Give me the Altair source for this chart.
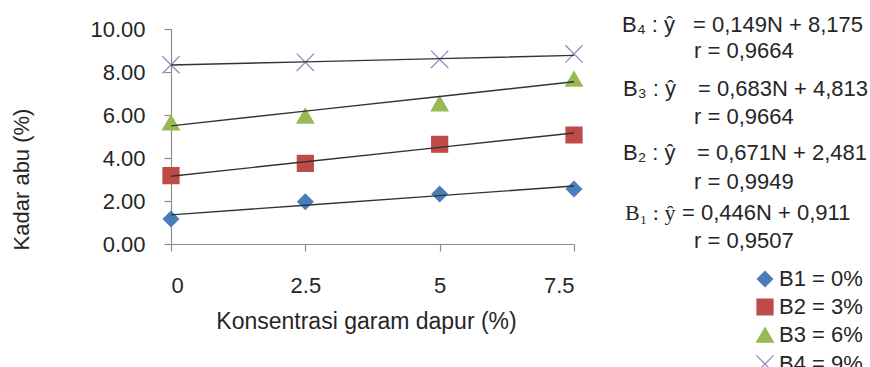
import altair as alt
import pandas as pd

# Konsentrasi garam dapur (%) pada sumbu X
konsentrasi = [0, 2.5, 5, 7.5]
perlakuan = ["B1 = 0%", "B2 = 3%", "B3 = 6%", "B4 = 9%"]

# Kadar abu (%) hasil pengamatan tiap perlakuan
kadar_b1 = [1.16, 1.97, 2.33, 2.56]
kadar_b2 = [3.18, 3.75, 4.64, 5.07]
kadar_b3 = [5.65, 5.96, 6.53, 7.68]
kadar_b4 = [8.33, 8.45, 8.59, 8.84]

# Persamaan regresi linier y = a*N + b (N = urutan taraf 1..4)
kemiringan = [0.446, 0.671, 0.683, 0.149]
intersep = [0.911, 2.481, 4.813, 8.175]
nilai_r = ["0,9507", "0,9949", "0,9664", "0,9664"]
notasi = ["B\u2081 : \u0177", "B\u2082 : \u0177", "B\u2083 : \u0177", "B\u2084 : \u0177"]

warna = ["#4A7EBB", "#BE4B48", "#98B954", "#9A87C0"]
SILANG = "M-1,-1L1,1M1,-1L-1,1"
bentuk = ["diamond", "square", "triangle-up", SILANG]
ukuran = [230, 300, 290, 330]

FONT = "Liberation Sans"
TEKS = "#262626"
FS = 22

semua_kadar = [kadar_b1, kadar_b2, kadar_b3, kadar_b4]
rows = []
for p, kadar in zip(perlakuan, semua_kadar):
    for x, y in zip(konsentrasi, kadar):
        rows.append({"perlakuan": p, "konsentrasi": x, "kadar": y})
obs = pd.DataFrame(rows)

# Garis tren dari persamaan regresi
tren_rows = []
for p, a, b in zip(perlakuan, kemiringan, intersep):
    for n, x in enumerate(konsentrasi, start=1):
        tren_rows.append({"perlakuan": p, "konsentrasi": x, "kadar": b + a * n})
tren = pd.DataFrame(tren_rows)

x_enc = alt.X(
    "konsentrasi:Q",
    scale=alt.Scale(domain=[0, 7.5], nice=False, zero=False),
    axis=alt.Axis(
        values=konsentrasi, format="~g", title="Konsentrasi garam dapur (%)",
        grid=False, tickSize=7, labelPadding=24, titleX=195, titleY=77,
        titleBaseline="middle", titleAlign="center", titleFontSize=23,
    ),
)
y_enc = alt.Y(
    "kadar:Q",
    scale=alt.Scale(domain=[0, 10], nice=False),
    axis=alt.Axis(
        values=[0, 2, 4, 6, 8, 10], format=".2f", title="Kadar abu (%)",
        grid=False, tickSize=7, labelPadding=19, titleAngle=270,
        titleX=-150, titleY=150, titleBaseline="middle", titleAlign="center",
    ),
)

leg = alt.Legend(
    title=None, orient="none", legendX=583, legendY=239, padding=0,
    rowPadding=6, labelOffset=3, symbolSize=170, symbolStrokeWidth=1.3,
    labelFontSize=FS, labelFont=FONT, labelColor=TEKS,
)

titik = alt.Chart(obs).mark_point(filled=True, strokeWidth=1.3, opacity=1).encode(
    x=x_enc,
    y=y_enc,
    color=alt.Color("perlakuan:N", scale=alt.Scale(domain=perlakuan, range=warna), legend=leg),
    stroke=alt.Stroke("perlakuan:N", scale=alt.Scale(domain=perlakuan, range=warna), legend=leg),
    shape=alt.Shape("perlakuan:N", scale=alt.Scale(domain=perlakuan, range=bentuk), legend=leg),
    size=alt.Size("perlakuan:N", scale=alt.Scale(domain=perlakuan, range=ukuran), legend=None),
)

garis = alt.Chart(tren).mark_line(color="#333333", strokeWidth=1.4).encode(
    x="konsentrasi:Q",
    y="kadar:Q",
    detail="perlakuan:N",
)

# Blok persamaan di sisi kanan (B4 di atas sampai B1)
lapisan_teks = []
baris_y = [(191, 219), (131, 160), (67, 95), (3, 29)]  # baseline (persamaan, r) untuk B1..B4
awal_label = [454, 452, 452, 451]
awal_persamaan = [511, 526, 527, 522]
for i in range(4):
    persamaan = "= {}N + {}".format(
        f"{kemiringan[i]:.3f}".replace(".", ","), f"{intersep[i]:.3f}".replace(".", ",")
    )
    yb, yr = baris_y[i]
    font_label = "Liberation Serif" if i == 0 else FONT
    d = pd.DataFrame({"label": [notasi[i]], "eq": [persamaan], "r": ["r = " + nilai_r[i]]})
    base = alt.Chart(d)
    lapisan_teks.append(
        base.mark_text(x=awal_label[i], y=yb, align="left", baseline="alphabetic",
                       font=font_label, fontSize=FS, color=TEKS).encode(text="label:N")
    )
    lapisan_teks.append(
        base.mark_text(x=awal_persamaan[i], y=yb, align="left", baseline="alphabetic",
                       font=FONT, fontSize=FS, color=TEKS).encode(text="eq:N")
    )
    lapisan_teks.append(
        base.mark_text(x=523, y=yr, align="left", baseline="alphabetic",
                       font=FONT, fontSize=FS, color=TEKS).encode(text="r:N")
    )

chart = alt.layer(titik, garis, *lapisan_teks).properties(
    width=403, height=215,
    autosize=alt.AutoSizeParams(type="none"),
    padding={"left": 171, "top": 29, "right": 296, "bottom": 123},
    background="white",
).configure_view(stroke=None).configure_axis(
    labelFont=FONT, labelFontSize=FS, labelColor=TEKS,
    titleFont=FONT, titleFontSize=22, titleColor=TEKS, titleFontWeight="normal",
    domainColor="#8c8c8c", tickColor="#8c8c8c", domainWidth=1.2, tickWidth=1.2,
)

chart.save("out.html", embed_options={"renderer": "svg", "actions": False})
